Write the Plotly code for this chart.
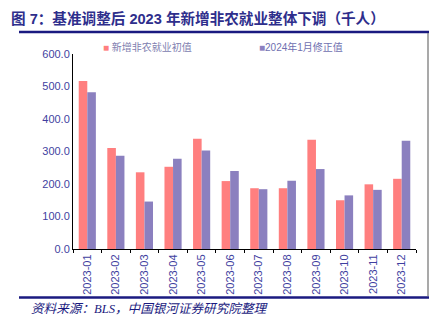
import plotly.graph_objects as go

months = ["2023-01", "2023-02", "2023-03", "2023-04", "2023-05", "2023-06",
          "2023-07", "2023-08", "2023-09", "2023-10", "2023-11", "2023-12"]
initial_values = [517, 311, 236, 253, 339, 209, 187, 187, 336, 150, 199, 216]
revised_values = [482, 287, 146, 278, 303, 240, 184, 210, 246, 165, 182, 333]
series_names = ["新增非农就业初值", "2024年1月修正值"]
y_ticks = [0, 100, 200, 300, 400, 500, 600]

RED = "#FF7F7F"
PURPLE = "#8B80BF"
AXIS_TXT = "#3F3F9F"
NAVY = "#1A1A80"
CJK = "Liberation Sans, Noto Sans CJK SC, sans-serif"

fig = go.Figure()
fig.add_trace(go.Bar(x=months, y=initial_values, name=series_names[0],
                     marker=dict(color=RED, line=dict(width=0))))
fig.add_trace(go.Bar(x=months, y=revised_values, name=series_names[1],
                     marker=dict(color=PURPLE, line=dict(width=0))))

W, H = 429, 323
ml, mr, mt, mb = 73, 13, 54, 74
pw, ph = W - ml - mr, H - mt - mb

def px_x(x):
    return (x - ml) / pw

def px_y(y):
    return (H - mb - y) / ph

fig.update_layout(
    width=W, height=H,
    margin=dict(l=ml, r=mr, t=mt, b=mb, pad=0),
    paper_bgcolor="white", plot_bgcolor="white",
    showlegend=False,
    barmode="group", bargap=0.4, bargroupgap=0,
    font=dict(family=CJK, size=11, color=AXIS_TXT),
    title=dict(text="<b>图 7：基准调整后 2023 年新增非农就业整体下调（千人）</b>",
               xref="container", yref="container", x=11 / W, xanchor="left",
               y=1 - 19 / H, yanchor="middle",
               font=dict(family="Liberation Sans, Noto Sans CJK SC", size=14.6, color="#2E2E8C")),
    xaxis=dict(type="category", tickangle=-90, showline=True, linecolor="black", linewidth=1,
               ticks="outside", ticklen=3, tickcolor="black", tickson="boundaries",
               tickfont=dict(size=11, color=AXIS_TXT, family="Liberation Sans"),
               showgrid=False, zeroline=False),
    yaxis=dict(range=[0, 600], tickvals=y_ticks, tickformat=".1f",
               showline=True, linecolor="black", linewidth=1, ticks="",
               tickfont=dict(size=11, color=AXIS_TXT, family="Liberation Sans"),
               showgrid=False, zeroline=False),
)

# legend drawn as text
fig.add_annotation(xref="paper", yref="paper", x=px_x(101), y=px_y(47), xanchor="left", yanchor="middle",
                   showarrow=False,
                   text=f"<span style='color:{RED}'>■</span> {series_names[0]}",
                   font=dict(size=10, color="#8080B0", family="Liberation Sans, Noto Sans CJK SC"))
fig.add_annotation(xref="paper", yref="paper", x=px_x(257), y=px_y(47), xanchor="left", yanchor="middle",
                   showarrow=False,
                   text=f"<span style='color:{PURPLE}'>■</span>{series_names[1]}",
                   font=dict(size=10, color="#7070B0", family="Liberation Sans, Noto Sans CJK SC"))

# source
fig.add_annotation(xref="paper", yref="paper", x=px_x(29), y=px_y(309), xanchor="left", yanchor="middle",
                   showarrow=False, text="资料来源：BLS，中国银河证券研究院整理",
                   font=dict(size=12.6, color="#1A1A80", family="Liberation Serif, Noto Sans CJK SC", style="italic"))

# frame lines
fig.add_shape(type="line", xref="paper", yref="paper", x0=px_x(19), x1=px_x(429), y0=px_y(32), y1=px_y(32),
              line=dict(color=NAVY, width=2.5))
fig.add_shape(type="line", xref="paper", yref="paper", x0=px_x(19), x1=px_x(429), y0=px_y(297.5), y1=px_y(297.5),
              line=dict(color=NAVY, width=2.5))
fig.add_shape(type="line", xref="paper", yref="paper", x0=px_x(428), x1=px_x(428), y0=px_y(33), y1=px_y(296),
              line=dict(color="#707070", width=1.2))

fig.write_html("out.html")
